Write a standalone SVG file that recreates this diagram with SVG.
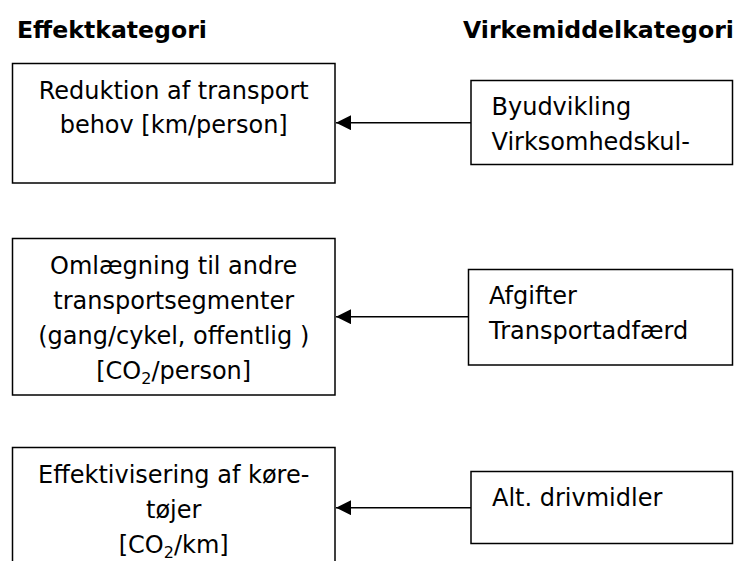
<svg xmlns="http://www.w3.org/2000/svg" width="739" height="561" viewBox="0 0 739 561">
<style>
.box{fill:#fff;stroke:#000;stroke-width:1.5}
.t{font-family:"DejaVu Sans",Verdana,sans-serif;font-size:24px;fill:#000}
.c{text-anchor:middle}
.h{font-family:"DejaVu Sans",Verdana,sans-serif;font-size:23.6px;font-weight:bold;fill:#000}
.conn{stroke:#000;stroke-width:1.6;fill:none}
</style>
<defs>
<marker id="ah" markerUnits="userSpaceOnUse" markerWidth="16" markerHeight="16" refX="15" refY="7.5" orient="auto">
<path d="M0,0 L15,7.5 L0,15 Z" fill="#000"/>
</marker>
</defs>
<rect width="739" height="561" fill="#fff"/>
<g id="headings">
<text class="h" x="17" y="38">Effektkategori</text>
<text class="h" x="463" y="38">Virkemiddelkategori</text>
</g>
<g id="effect1">
<rect class="box" x="12.5" y="63.5" width="322.5" height="119.5"/>
<text class="t c" x="173.7" y="99">Reduktion af transport</text>
<text class="t c" x="173.7" y="133">behov [km/person]</text>
</g>
<g id="measure1">
<rect class="box" x="471" y="80.5" width="261.5" height="84"/>
<text class="t" x="491.5" y="115">Byudvikling</text>
<text class="t" x="491.5" y="150">Virksomhedskul-</text>
</g>
<g id="effect2">
<rect class="box" x="12.5" y="238.5" width="322.5" height="156.5"/>
<text class="t c" x="173.7" y="274">Omlægning til andre</text>
<text class="t c" x="173.7" y="309">transportsegmenter</text>
<text class="t c" x="173.7" y="344">(gang/cykel, offentlig )</text>
<text class="t c" x="173.7" y="379">[CO<tspan font-size="16" dy="5">2</tspan><tspan dy="-5">/person]</tspan></text>
</g>
<g id="measure2">
<rect class="box" x="468.5" y="269.5" width="264" height="95.5"/>
<text class="t" x="489" y="304">Afgifter</text>
<text class="t" x="489" y="339">Transportadfærd</text>
</g>
<g id="effect3">
<rect class="box" x="12.5" y="447.5" width="322.5" height="140"/>
<text class="t c" x="173.7" y="483">Effektivisering af køre-</text>
<text class="t c" x="173.7" y="518">tøjer</text>
<text class="t c" x="173.7" y="553">[CO<tspan font-size="16" dy="5">2</tspan><tspan dy="-5">/km]</tspan></text>
</g>
<g id="measure3">
<rect class="box" x="471" y="471.5" width="261.5" height="72"/>
<text class="t" x="492" y="505.5">Alt. drivmidler</text>
</g>
<g id="connectors">
<line class="conn" x1="471" y1="122.7" x2="336" y2="122.7" marker-end="url(#ah)"/>
<line class="conn" x1="468.5" y1="316.7" x2="336" y2="316.7" marker-end="url(#ah)"/>
<line class="conn" x1="471" y1="507.7" x2="336" y2="507.7" marker-end="url(#ah)"/>
</g>
</svg>
